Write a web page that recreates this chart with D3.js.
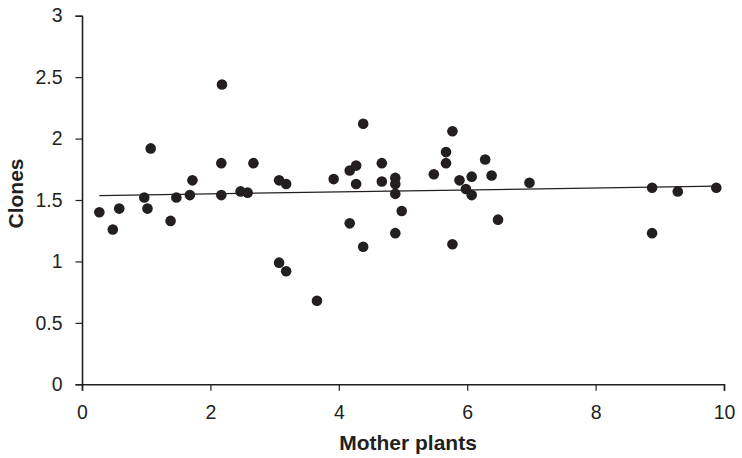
<!DOCTYPE html>
<html lang="en">
<head>
    <meta charset="UTF-8">
    <title>clones</title>
    <script src="https://d3js.org/d3.v7.min.js"></script>
    <style>
        html, body {
            padding: 0;
            margin: 0;
            background-color: white;
        }
        svg text {
            font-family: "Liberation Sans", Arial, sans-serif;
            fill: #231f20;
        }
    </style>
</head>
<body>
<script>
    // values
    const motherPlants = [
        0.27, 0.48, 0.58, 0.97, 1.02, 1.07, 1.38, 1.47, 1.68, 1.72,
        2.17, 2.17, 2.18, 2.47, 2.58, 2.67, 3.07, 3.07, 3.18, 3.18,
        3.66, 3.92, 4.17, 4.17, 4.27, 4.27, 4.38, 4.38, 4.67, 4.67,
        4.88, 4.88, 4.88, 4.88, 4.98, 5.48, 5.67, 5.67, 5.77, 5.77,
        5.88, 5.98, 6.07, 6.07, 6.28, 6.38, 6.48, 6.97, 8.88, 8.88,
        9.28, 9.88
    ];
    const clones = [
        1.40, 1.26, 1.43, 1.52, 1.43, 1.92, 1.33, 1.52, 1.54, 1.66,
        1.54, 1.80, 2.44, 1.57, 1.56, 1.80, 1.66, 0.99, 1.63, 0.92,
        0.68, 1.67, 1.74, 1.31, 1.78, 1.63, 2.12, 1.12, 1.80, 1.65,
        1.68, 1.63, 1.55, 1.23, 1.41, 1.71, 1.89, 1.80, 2.06, 1.14,
        1.66, 1.59, 1.69, 1.54, 1.83, 1.70, 1.34, 1.64, 1.60, 1.23,
        1.57, 1.60
    ];
    const xTicks = [0, 2, 4, 6, 8, 10];
    const yTicks = [0, 0.5, 1, 1.5, 2, 2.5, 3];

    const width = 742, height = 458;
    const ink = "#231f20";

    const svg = d3.select("body").append("svg")
        .attr("width", width)
        .attr("height", height);

    const x = d3.scaleLinear().domain([0, 10]).range([82, 724]);
    const y = d3.scaleLinear().domain([0, 3]).range([384.3, 15.7]);

    // axes
    const xAxis = svg.append("g")
        .attr("transform", `translate(0,${y(0)})`)
        .call(d3.axisBottom(x).tickValues(xTicks).tickSize(6.5).tickPadding(14).tickFormat(d3.format("d")));
    const yAxis = svg.append("g")
        .attr("transform", `translate(${x(0)},0)`)
        .call(d3.axisLeft(y).tickValues(yTicks).tickSize(6.5).tickPadding(13).tickFormat(d => d));

    [xAxis, yAxis].forEach(g => {
        g.select(".domain").attr("stroke", ink).attr("stroke-width", 1.6);
        g.selectAll(".tick line").attr("stroke", ink).attr("stroke-width", 1.2);
        g.selectAll(".tick text")
            .style("font-size", "19.5px")
            .attr("fill", ink);
    });

    // linear trend line (least squares)
    const n = motherPlants.length;
    const mx = d3.mean(motherPlants), my = d3.mean(clones);
    let sxy = 0, sxx = 0;
    for (let i = 0; i < n; i++) {
        sxy += (motherPlants[i] - mx) * (clones[i] - my);
        sxx += (motherPlants[i] - mx) ** 2;
    }
    const slope = sxy / sxx, intercept = my - slope * mx;
    const x0 = d3.min(motherPlants), x1 = d3.max(motherPlants);

    svg.append("line")
        .attr("x1", x(x0)).attr("y1", y(intercept + slope * x0))
        .attr("x2", x(x1)).attr("y2", y(intercept + slope * x1))
        .attr("stroke", ink)
        .attr("stroke-width", 1.3);

    // points
    svg.append("g")
        .selectAll("circle")
        .data(motherPlants.map((d, i) => [d, clones[i]]))
        .join("circle")
        .attr("cx", d => x(d[0]))
        .attr("cy", d => y(d[1]))
        .attr("r", 5.3)
        .attr("fill", ink);

    // axis titles
    svg.append("text")
        .attr("x", 408)
        .attr("y", 450)
        .attr("text-anchor", "middle")
        .style("font-size", "21px")
        .style("font-weight", "bold")
        .text("Mother plants");

    svg.append("text")
        .attr("transform", "translate(23,193.5) rotate(-90)")
        .attr("text-anchor", "middle")
        .style("font-size", "21px")
        .style("font-weight", "bold")
        .text("Clones");
</script>
</body>
</html>
